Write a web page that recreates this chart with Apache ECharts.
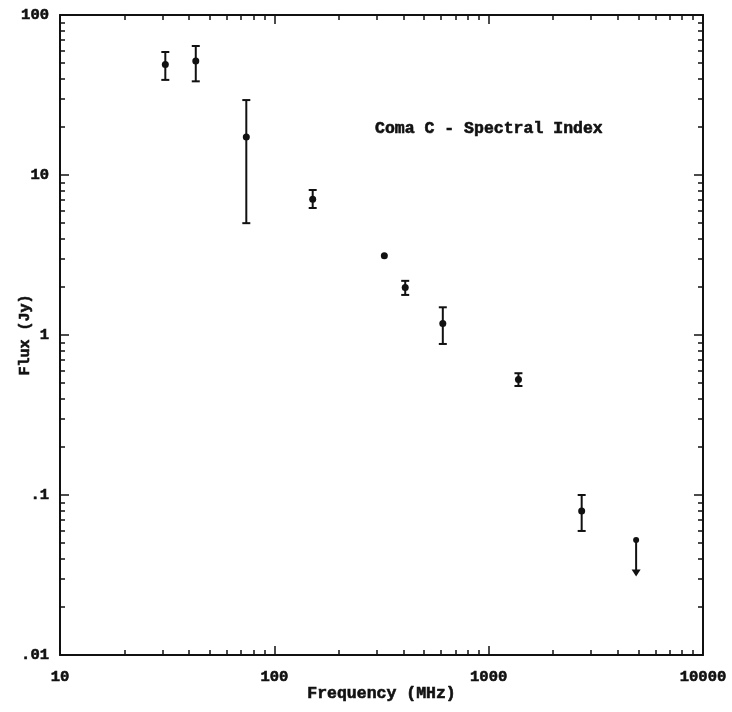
<!DOCTYPE html>
<html>
<head>
<meta charset="utf-8">
<script src="https://cdn.jsdelivr.net/npm/echarts@6/dist/echarts.min.js"></script>
<style>
html,body{margin:0;padding:0;background:#fff;}
#chart{width:732px;height:712px;}
</style>
</head>
<body>
<div id="chart"></div>
<script>
// ---- data ----
const freq     = [31, 43, 74, 151, 326, 408, 611, 1377, 2716];
const flux     = [49, 51.6, 17.3, 7.05, 3.13, 1.98, 1.18, 0.528, 0.0794];
const fluxLow  = [39.3, 38.5, 5.0, 6.22, null, 1.78, 0.879, 0.48, 0.0596];
const fluxHigh = [58.7, 64, 29.4, 8.06, null, 2.18, 1.49, 0.577, 0.1];
// upper-limit style point (dot with arrow pointing down)
const limitFreq   = [4875];
const limitTop    = [0.0523];
const limitBottom = [0.0309];

const xTickValues = [10, 100, 1000, 10000];
const xTickLabels = ['10', '100', '1000', '10000'];
const yTickValues = [0.01, 0.1, 1, 10, 100];
const yTickLabels = ['.01', '.1', '1', '10', '100'];
const annotation = 'Coma C - Spectral Index';
const xName = 'Frequency (MHz)';
const yName = 'Flux (Jy)';

function minorValues(lo, hi) {
  const out = [];
  for (let d = lo; d < hi; d *= 10) {
    for (let k = 2; k <= 9; k++) out.push(+(k * d).toPrecision(6));
  }
  return out;
}
const xMinor = minorValues(10, 10000);
const yMinor = minorValues(0.01, 100);

const FONT = '"Liberation Mono", "DejaVu Sans Mono", monospace';
const INK = '#111';
const BOLDER = {textBorderColor: INK, textBorderWidth: 0.6};

function fmtLabel(values, labels) {
  return function (v) {
    for (let i = 0; i < values.length; i++) {
      if (Math.abs(Math.log10(v) - Math.log10(values[i])) < 1e-6) return labels[i];
    }
    return '';
  };
}

const baseAxis = {
  type: 'log', logBase: 10, splitLine: {show: false}
};

const xAxes = [
  Object.assign({}, baseAxis, {
    position: 'bottom', min: 10, max: 10000,
    axisLine: {show: true, lineStyle: {color: INK, width: 2}},
    axisTick: {show: true, inside: true, length: 9, customValues: xTickValues, lineStyle: {color: INK, width: 1.5}},
    axisLabel: Object.assign({show: true, margin: 14, customValues: xTickValues, formatter: fmtLabel(xTickValues, xTickLabels),
      color: INK, fontFamily: FONT, fontWeight: 'bold', fontSize: 15.5}, BOLDER),
    name: xName, nameLocation: 'middle', nameGap: 30, nameMoveOverlap: false,
    nameTextStyle: Object.assign({color: INK, fontFamily: FONT, fontWeight: 'bold', fontSize: 16.5}, BOLDER)
  }),
  Object.assign({}, baseAxis, {
    position: 'top', min: 10, max: 10000,
    axisLine: {show: true, lineStyle: {color: INK, width: 2}},
    axisTick: {show: true, inside: true, length: 9, customValues: xTickValues, lineStyle: {color: INK, width: 1.5}},
    axisLabel: {show: false}
  }),
  Object.assign({}, baseAxis, {
    position: 'bottom', min: 10, max: 10000,
    axisLine: {show: false},
    axisTick: {show: true, inside: true, length: 5, customValues: xMinor, lineStyle: {color: INK, width: 1.5}},
    axisLabel: {show: false}
  }),
  Object.assign({}, baseAxis, {
    position: 'top', min: 10, max: 10000,
    axisLine: {show: false},
    axisTick: {show: true, inside: true, length: 5, customValues: xMinor, lineStyle: {color: INK, width: 1.5}},
    axisLabel: {show: false}
  })
];

const yAxes = [
  Object.assign({}, baseAxis, {
    position: 'left', min: 0.01, max: 100,
    axisLine: {show: true, lineStyle: {color: INK, width: 2}},
    axisTick: {show: true, inside: true, length: 9, customValues: yTickValues, lineStyle: {color: INK, width: 1.5}},
    axisLabel: Object.assign({show: true, margin: 11, customValues: yTickValues, formatter: fmtLabel(yTickValues, yTickLabels),
      color: INK, fontFamily: FONT, fontWeight: 'bold', fontSize: 15.5}, BOLDER),
    name: yName, nameLocation: 'middle', nameGap: 27, nameRotate: 90, nameMoveOverlap: false,
    nameTextStyle: Object.assign({color: INK, fontFamily: FONT, fontWeight: 'bold', fontSize: 15}, BOLDER)
  }),
  Object.assign({}, baseAxis, {
    position: 'right', min: 0.01, max: 100,
    axisLine: {show: true, lineStyle: {color: INK, width: 2}},
    axisTick: {show: true, inside: true, length: 9, customValues: yTickValues, lineStyle: {color: INK, width: 1.5}},
    axisLabel: {show: false}
  }),
  Object.assign({}, baseAxis, {
    position: 'left', min: 0.01, max: 100,
    axisLine: {show: false},
    axisTick: {show: true, inside: true, length: 5, customValues: yMinor, lineStyle: {color: INK, width: 1.5}},
    axisLabel: {show: false}
  }),
  Object.assign({}, baseAxis, {
    position: 'right', min: 0.01, max: 100,
    axisLine: {show: false},
    axisTick: {show: true, inside: true, length: 5, customValues: yMinor, lineStyle: {color: INK, width: 1.5}},
    axisLabel: {show: false}
  })
];

const pointData = freq.map((f, i) => [f, flux[i],
  fluxLow[i] == null ? NaN : fluxLow[i],
  fluxHigh[i] == null ? NaN : fluxHigh[i]]);
const limitData = limitFreq.map((f, i) => [f, limitTop[i], limitBottom[i]]);

function renderErr(params, api) {
  const x = api.value(0), y = api.value(1), lo = api.value(2), hi = api.value(3);
  const p = api.coord([x, y]);
  const children = [];
  if (!isNaN(lo) && !isNaN(hi)) {
    const pl = api.coord([x, lo]), ph = api.coord([x, hi]);
    const w = 4;
    const st = {stroke: INK, lineWidth: 2};
    children.push({type: 'line', shape: {x1: p[0], y1: pl[1], x2: p[0], y2: ph[1]}, style: st});
    children.push({type: 'line', shape: {x1: p[0] - w, y1: pl[1], x2: p[0] + w, y2: pl[1]}, style: st});
    children.push({type: 'line', shape: {x1: p[0] - w, y1: ph[1], x2: p[0] + w, y2: ph[1]}, style: st});
  }
  children.push({type: 'circle', shape: {cx: p[0], cy: p[1], r: 3.5}, style: {fill: INK}});
  return {type: 'group', children: children};
}

function renderLimit(params, api) {
  const x = api.value(0), top = api.value(1), bot = api.value(2);
  const pt = api.coord([x, top]), pb = api.coord([x, bot]);
  return {type: 'group', children: [
    {type: 'line', shape: {x1: pt[0], y1: pt[1], x2: pb[0], y2: pb[1] - 4}, style: {stroke: INK, lineWidth: 2}},
    {type: 'circle', shape: {cx: pt[0], cy: pt[1], r: 3}, style: {fill: INK}},
    {type: 'polygon', shape: {points: [[pb[0] - 4.5, pb[1] - 7], [pb[0] + 4.5, pb[1] - 7], [pb[0], pb[1]]]}, style: {fill: INK}}
  ]};
}

const chart = echarts.init(document.getElementById('chart'), null, {renderer: 'canvas'});
chart.setOption({
  backgroundColor: '#fff',
  animation: false,
  grid: {left: 60, right: 29, top: 15, bottom: 57, containLabel: false, outerBoundsMode: 'none'},
  title: {
    text: annotation, left: 375, top: 120, padding: 0,
    textStyle: Object.assign({color: INK, fontFamily: FONT, fontWeight: 'bold', fontSize: 16.5}, BOLDER)
  },
  xAxis: xAxes,
  yAxis: yAxes,
  series: [
    {type: 'custom', xAxisIndex: 0, yAxisIndex: 0, data: pointData, renderItem: renderErr,
      encode: {x: 0, y: [1, 2, 3]}, clip: false},
    {type: 'custom', xAxisIndex: 0, yAxisIndex: 0, data: limitData, renderItem: renderLimit,
      encode: {x: 0, y: [1, 2]}, clip: false}
  ]
});
</script>
</body>
</html>
